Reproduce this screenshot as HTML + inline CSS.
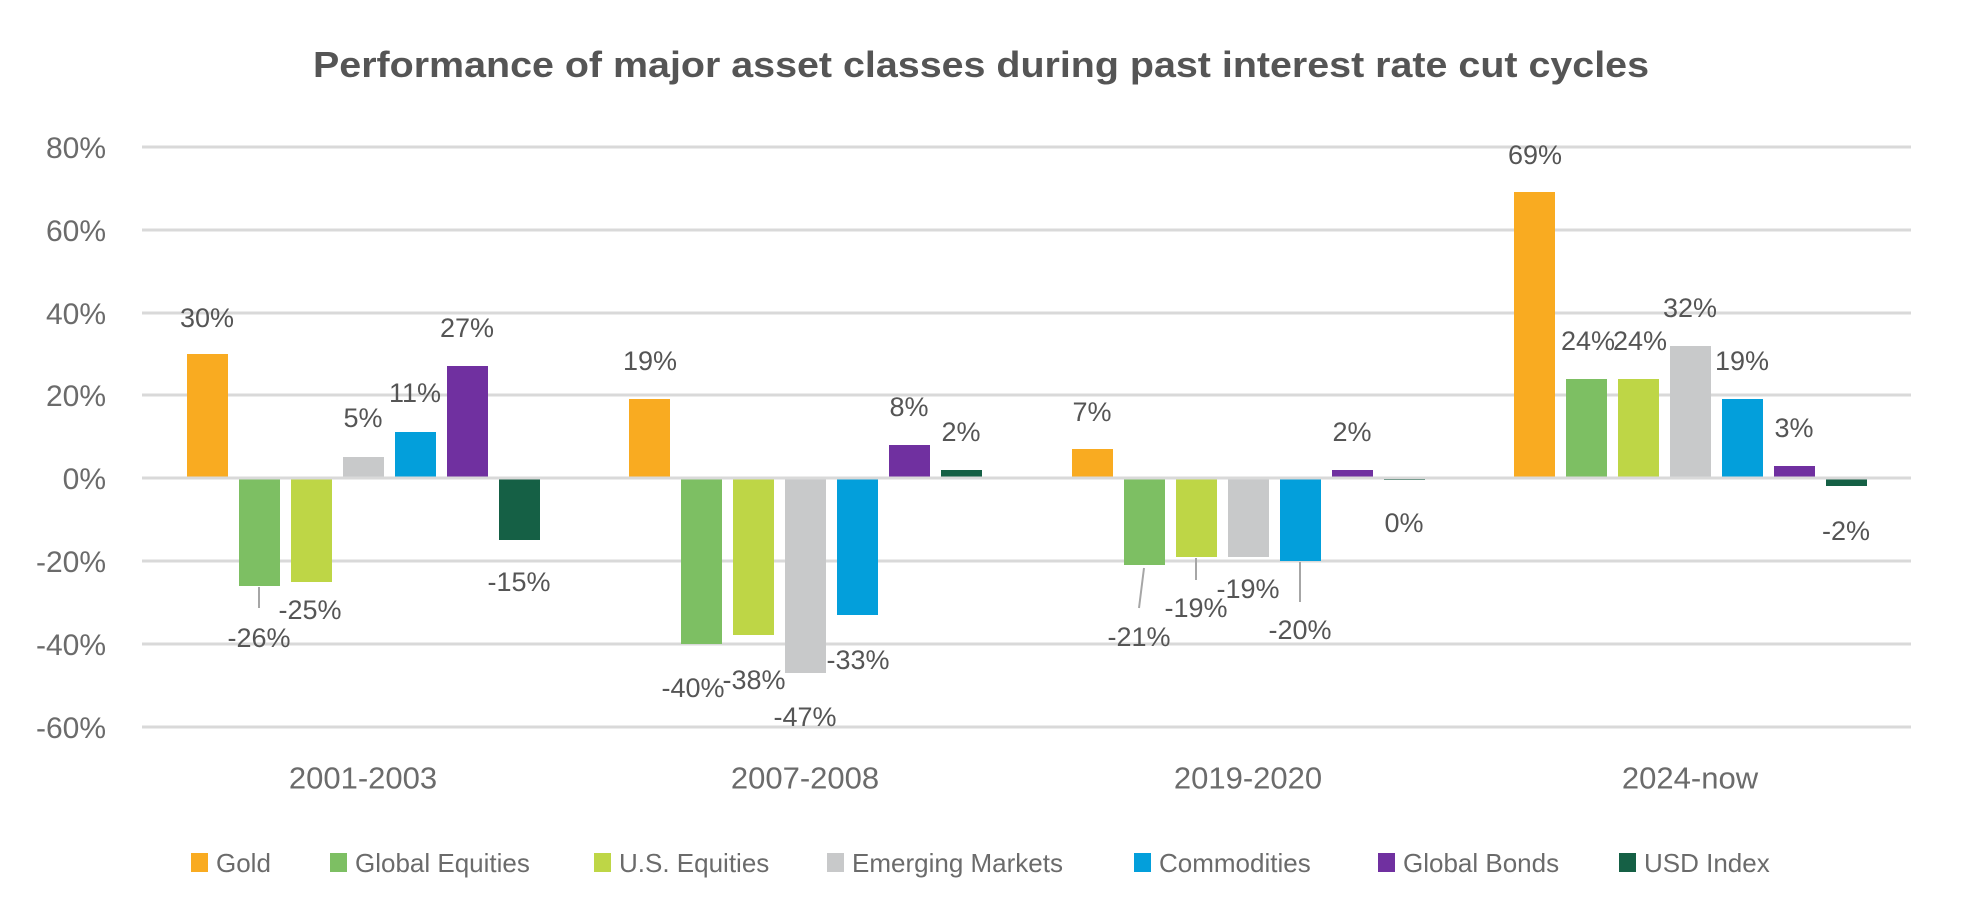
<!DOCTYPE html>
<html><head><meta charset="utf-8"><style>
html,body{margin:0;padding:0;background:#fff;}
svg{display:block;}
text{font-family:"Liberation Sans",sans-serif;}
</style></head><body>
<svg width="1962" height="923" viewBox="0 0 1962 923" xmlns="http://www.w3.org/2000/svg">
<rect width="1962" height="923" fill="#fff"/>
<text x="981" y="77" text-anchor="middle" font-size="36" font-weight="bold" fill="#555" textLength="1336" lengthAdjust="spacingAndGlyphs">Performance of major asset classes during past interest rate cut cycles</text>
<g stroke="#d9d9d9" stroke-width="3">
<line x1="142" x2="1911" y1="147" y2="147"/>
<line x1="142" x2="1911" y1="230" y2="230"/>
<line x1="142" x2="1911" y1="313" y2="313"/>
<line x1="142" x2="1911" y1="395" y2="395"/>
<line x1="142" x2="1911" y1="561" y2="561"/>
<line x1="142" x2="1911" y1="644" y2="644"/>
<line x1="142" x2="1911" y1="727" y2="727"/>
</g>
<g font-size="30" fill="#6b6b6b" text-anchor="end">
<text x="106" y="158">80%</text><text x="106" y="241">60%</text><text x="106" y="324">40%</text><text x="106" y="406">20%</text><text x="106" y="489">0%</text><text x="106" y="572">-20%</text><text x="106" y="655">-40%</text><text x="106" y="738">-60%</text>
</g>
<g id="bars">
<!-- G1 -->
<rect x="187" y="354" width="41" height="124" fill="#F9AB21"/>
<rect x="239" y="478" width="41" height="108" fill="#7DBF63"/>
<rect x="291" y="478" width="41" height="104" fill="#BED646"/>
<rect x="343" y="457" width="41" height="21" fill="#C8C9CA"/>
<rect x="395" y="432" width="41" height="46" fill="#039FDB"/>
<rect x="447" y="366" width="41" height="112" fill="#7030A0"/>
<rect x="499" y="478" width="41" height="62" fill="#156045"/>
<!-- G2 -->
<rect x="629" y="399" width="41" height="79" fill="#F9AB21"/>
<rect x="681" y="478" width="41" height="166" fill="#7DBF63"/>
<rect x="733" y="478" width="41" height="157" fill="#BED646"/>
<rect x="785" y="478" width="41" height="195" fill="#C8C9CA"/>
<rect x="837" y="478" width="41" height="137" fill="#039FDB"/>
<rect x="889" y="445" width="41" height="33" fill="#7030A0"/>
<rect x="941" y="470" width="41" height="8" fill="#156045"/>
<!-- G3 -->
<rect x="1072" y="449" width="41" height="29" fill="#F9AB21"/>
<rect x="1124" y="478" width="41" height="87" fill="#7DBF63"/>
<rect x="1176" y="478" width="41" height="79" fill="#BED646"/>
<rect x="1228" y="478" width="41" height="79" fill="#C8C9CA"/>
<rect x="1280" y="478" width="41" height="83" fill="#039FDB"/>
<rect x="1332" y="470" width="41" height="8" fill="#7030A0"/>
<rect x="1384" y="478" width="41" height="2" fill="#156045"/>
<!-- G4 -->
<rect x="1514" y="192" width="41" height="286" fill="#F9AB21"/>
<rect x="1566" y="379" width="41" height="99" fill="#7DBF63"/>
<rect x="1618" y="379" width="41" height="99" fill="#BED646"/>
<rect x="1670" y="346" width="41" height="132" fill="#C8C9CA"/>
<rect x="1722" y="399" width="41" height="79" fill="#039FDB"/>
<rect x="1774" y="466" width="41" height="12" fill="#7030A0"/>
<rect x="1826" y="478" width="41" height="8" fill="#156045"/>
</g>
<line x1="142" x2="1911" y1="478" y2="478" stroke="#d9d9d9" stroke-width="3"/>
<g stroke="#a6a6a6" stroke-width="2">
<line x1="259" y1="587" x2="259" y2="608"/>
<line x1="1144" y1="568" x2="1139" y2="608"/>
<line x1="1196" y1="558" x2="1196" y2="580"/>
<line x1="1300" y1="562" x2="1300" y2="602"/>
</g>
<g font-size="27" fill="#555" text-anchor="middle" dominant-baseline="central">
<text x="207" y="318">30%</text><text x="259" y="638">-26%</text><text x="310" y="610">-25%</text><text x="363" y="418">5%</text><text x="415" y="393">11%</text><text x="467" y="328">27%</text><text x="519" y="582">-15%</text>
<text x="650" y="361">19%</text><text x="693" y="688">-40%</text><text x="754" y="680">-38%</text><text x="805" y="717">-47%</text><text x="858" y="660">-33%</text><text x="909" y="407">8%</text><text x="961" y="432">2%</text>
<text x="1092" y="412">7%</text><text x="1139" y="637">-21%</text><text x="1196" y="608">-19%</text><text x="1248" y="589">-19%</text><text x="1300" y="630">-20%</text><text x="1352" y="432">2%</text><text x="1404" y="523">0%</text>
<text x="1535" y="155">69%</text><text x="1588" y="341">24%</text><text x="1640" y="341">24%</text><text x="1690" y="308">32%</text><text x="1742" y="361">19%</text><text x="1794" y="428">3%</text><text x="1846" y="531">-2%</text>
</g>
<g font-size="31" fill="#6b6b6b" text-anchor="middle" dominant-baseline="central">
<text x="363" y="778">2001-2003</text><text x="805" y="778">2007-2008</text><text x="1248" y="778">2019-2020</text><text x="1690" y="778">2024-now</text>
</g>
<g font-size="26" fill="#6b6b6b">
<rect x="191" y="853" width="17" height="19" fill="#F9AB21"/><text x="216" y="872">Gold</text>
<rect x="330" y="853" width="17" height="19" fill="#7DBF63"/><text x="355" y="872">Global Equities</text>
<rect x="594" y="853" width="17" height="19" fill="#BED646"/><text x="619" y="872">U.S. Equities</text>
<rect x="827" y="853" width="17" height="19" fill="#C8C9CA"/><text x="852" y="872">Emerging Markets</text>
<rect x="1134" y="853" width="17" height="19" fill="#039FDB"/><text x="1159" y="872">Commodities</text>
<rect x="1378" y="853" width="17" height="19" fill="#7030A0"/><text x="1403" y="872">Global Bonds</text>
<rect x="1619" y="853" width="17" height="19" fill="#156045"/><text x="1644" y="872">USD Index</text>
</g>
</svg>
</body></html>
